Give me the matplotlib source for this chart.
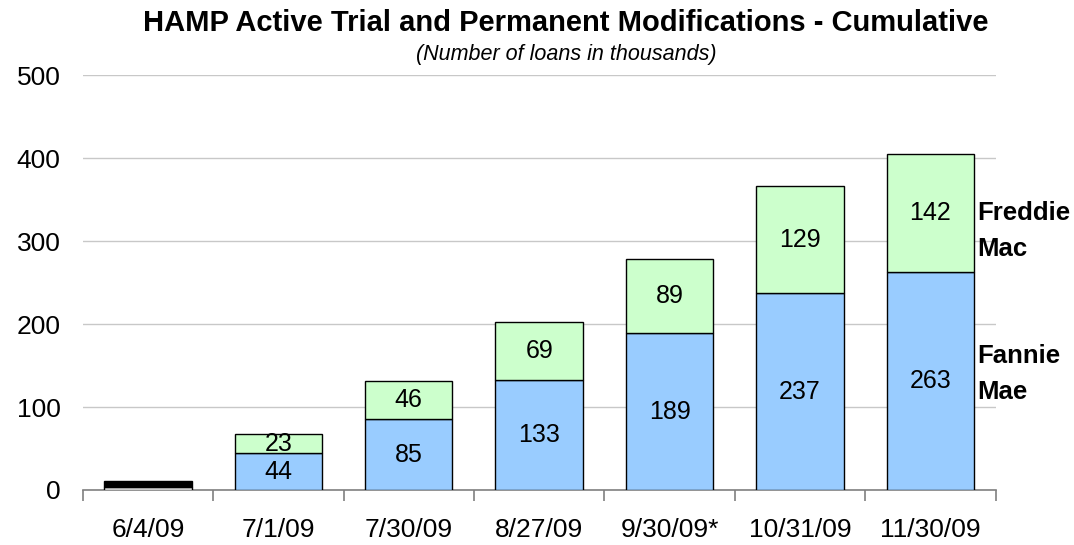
import matplotlib
matplotlib.use('Agg')
import matplotlib.pyplot as plt
import numpy as np

plt.rcParams['font.family'] = ['Liberation Sans', 'DejaVu Sans']

# Data (thousands of loans)
dates = ['6/4/09', '7/1/09', '7/30/09', '8/27/09', '9/30/09*', '10/31/09', '11/30/09']
fannie = [3, 44, 85, 133, 189, 237, 263]
freddie = [8, 23, 46, 69, 89, 129, 142]

fig = plt.figure(figsize=(10.74, 5.45), dpi=100)
ax = fig.add_axes([0.077, 0.101, 0.85, 0.761])

x = np.arange(len(dates))
blue = '#99CCFF'
green = '#CCFFCC'

b1 = ax.bar(x, fannie, width=0.67, color=blue, edgecolor='black', linewidth=1, zorder=3)
b2 = ax.bar(x, freddie, width=0.67, bottom=fannie, color=green, edgecolor='black',
            linewidth=1, zorder=3)
# first bar is too small to show colours; it renders as a dark sliver
b2[0].set_facecolor('black')
b1[0].set_facecolor('white')

# value labels in the middle of each segment (skip the tiny first bar)
for i in range(1, len(dates)):
    ax.text(x[i], fannie[i] / 2, str(fannie[i]), ha='center', va='center', fontsize=18, zorder=4)
    ax.text(x[i], fannie[i] + freddie[i] / 2, str(freddie[i]), ha='center', va='center',
            fontsize=18, zorder=4)

ax.set_xlim(-0.5, len(dates) - 0.5)
ax.set_ylim(0, 500)
ax.set_yticks(range(0, 501, 100))
ax.set_xticks(x)
ax.set_xticklabels(dates)
ax.set_xticks(np.arange(-0.5, len(dates)), minor=True)
ax.tick_params(axis='both', which='major', length=0, labelsize=19)
ax.tick_params(axis='x', which='minor', length=8, width=1.2, color='#808080', direction='out')
ax.tick_params(axis='y', pad=16)
ax.tick_params(axis='x', which='major', pad=20)
ax.yaxis.grid(True, color='#C8C8C8', linewidth=1, zorder=0)
for s in ['top', 'right', 'left']:
    ax.spines[s].set_visible(False)
ax.spines['bottom'].set_color('#808080')
ax.spines['bottom'].set_linewidth(1.2)

# series labels on the right
ax.text(6.36, 312, 'Freddie\nMac', ha='left', va='center',
        fontsize=18.5, fontweight='bold', linespacing=1.65)
ax.text(6.36, 140, 'Fannie\nMae', ha='left', va='center',
        fontsize=18.5, fontweight='bold', linespacing=1.65)

fig.text(0.527, 0.958, 'HAMP Active Trial and Permanent Modifications - Cumulative',
         ha='center', va='center', fontsize=21, fontweight='bold')
fig.text(0.527, 0.9, '(Number of loans in thousands)', ha='center', va='center',
         fontsize=15.5, style='italic')

fig.savefig('out.png', dpi=100)
